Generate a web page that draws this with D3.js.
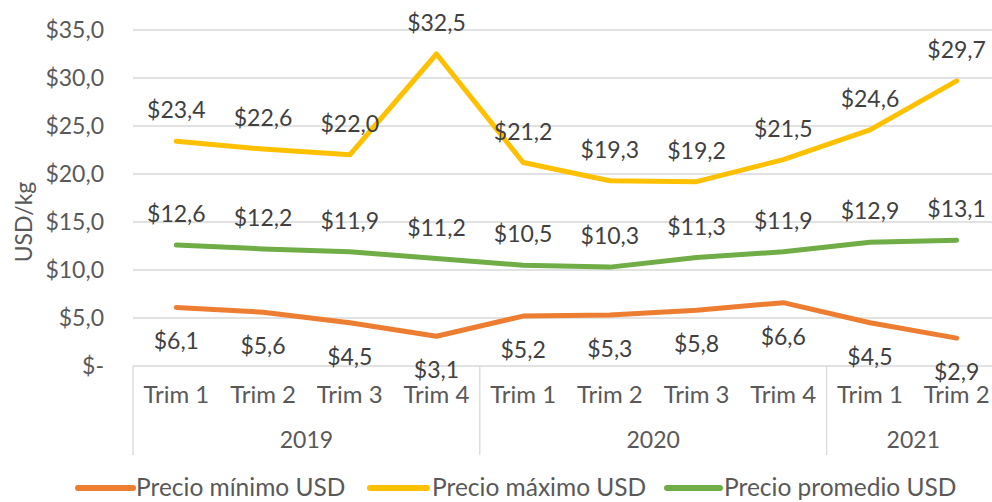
<!DOCTYPE html>
<html><head><meta charset="utf-8">
<script src="https://cdn.jsdelivr.net/npm/d3@7"></script>
<style>body{margin:0;background:#fff}svg{display:block}text{font-family:Lato,"Open Sans",sans-serif;fill:#595959}</style>
</head><body>
<script>
const quarters = ["Trim 1","Trim 2","Trim 3","Trim 4","Trim 1","Trim 2","Trim 3","Trim 4","Trim 1","Trim 2"];
const years = ["2019","2020","2021"];
const yearCounts = [4,4,2];
const minPrice = [6.1,5.6,4.5,3.1,5.2,5.3,5.8,6.6,4.5,2.9];
const maxPrice = [23.4,22.6,22.0,32.5,21.2,19.3,19.2,21.5,24.6,29.7];
const avgPrice = [12.6,12.2,11.9,11.2,10.5,10.3,11.3,11.9,12.9,13.1];
const yTicks = [0,5,10,15,20,25,30,35];
const seriesNames = ["Precio mínimo USD","Precio máximo USD","Precio promedio USD"];

(function(){
const W=992,H=502;
const svg=d3.select("body").append("svg").attr("width",W).attr("height",H);
const pl=133,pr=1000,pt=30,pb=366;
const FS=23;
const x=d3.scaleBand().domain(d3.range(quarters.length)).range([pl,pr]);
const y=d3.scaleLinear().domain([0,35]).range([pb,pt]);
const fmt=v=> v===0 ? "$-" : "$"+v.toFixed(1).replace(".",",");

svg.append("g").selectAll("line").data(yTicks.filter(t=>t>0)).join("line")
  .attr("x1",pl).attr("x2",pr).attr("y1",d=>y(d)).attr("y2",d=>y(d))
  .attr("stroke","#d9d9d9").attr("stroke-width",1.3);
svg.append("g").selectAll("text").data(yTicks).join("text")
  .attr("x",104).attr("y",d=>y(d)).attr("dy","0.35em").attr("text-anchor","end")
  .attr("font-size",FS).text(fmt);
svg.append("text").attr("transform","translate(32,222) rotate(-90)").attr("text-anchor","middle")
  .attr("font-size",FS).text("USD/kg");

svg.append("line").attr("x1",pl).attr("x2",pr).attr("y1",pb).attr("y2",pb).attr("stroke","#d9d9d9").attr("stroke-width",1.3);
let acc=0; const bounds=[0];
yearCounts.forEach(c=>{acc+=c;bounds.push(acc);});
const bx=d=>d<quarters.length?x(d):pr;
svg.append("g").selectAll("line").data(bounds).join("line")
  .attr("x1",bx).attr("x2",bx)
  .attr("y1",pb).attr("y2",455).attr("stroke","#d9d9d9").attr("stroke-width",1.3);
svg.append("g").selectAll("text").data(quarters).join("text")
  .attr("x",(d,i)=>x(i)+x.bandwidth()/2).attr("y",395).attr("dy","0.35em").attr("text-anchor","middle")
  .attr("font-size",24).text(d=>d);
svg.append("g").selectAll("text").data(years).join("text")
  .attr("x",(d,i)=>(bx(bounds[i])+bx(bounds[i+1]))/2)
  .attr("y",440).attr("dy","0.35em").attr("text-anchor","middle").attr("font-size",FS).text(d=>d);

const colors=["#ED7D31","#FFC000","#70AD47"];
const series=[minPrice,maxPrice,avgPrice];
const line=d3.line().x((d,i)=>x(i)+x.bandwidth()/2).y(d=>y(d));
series.forEach((s,k)=>{
  svg.append("path").datum(s).attr("d",line).attr("fill","none").attr("stroke",colors[k])
    .attr("stroke-width",5).attr("stroke-linejoin","round").attr("stroke-linecap","round");
});
series.forEach((s,k)=>{
  const off = k===0 ? 34 : -31;
  svg.append("g").selectAll("text").data(s).join("text")
    .attr("x",(d,i)=>x(i)+x.bandwidth()/2).attr("y",d=>y(d)+off).attr("dy","0.35em")
    .attr("text-anchor","middle").attr("font-size",FS).style("fill","#404040").text(fmt);
});

const legLine=[[78,133],[370,427],[667,720]];
const legText=[136,432,724];
seriesNames.forEach((n,k)=>{
  svg.append("line").attr("x1",legLine[k][0]).attr("x2",legLine[k][1]).attr("y1",488).attr("y2",488)
    .attr("stroke",colors[k]).attr("stroke-width",6).attr("stroke-linecap","round");
  svg.append("text").attr("x",legText[k]).attr("y",487).attr("dy","0.35em").attr("font-size",24.5).text(n);
});
})();
</script>
</body></html>
